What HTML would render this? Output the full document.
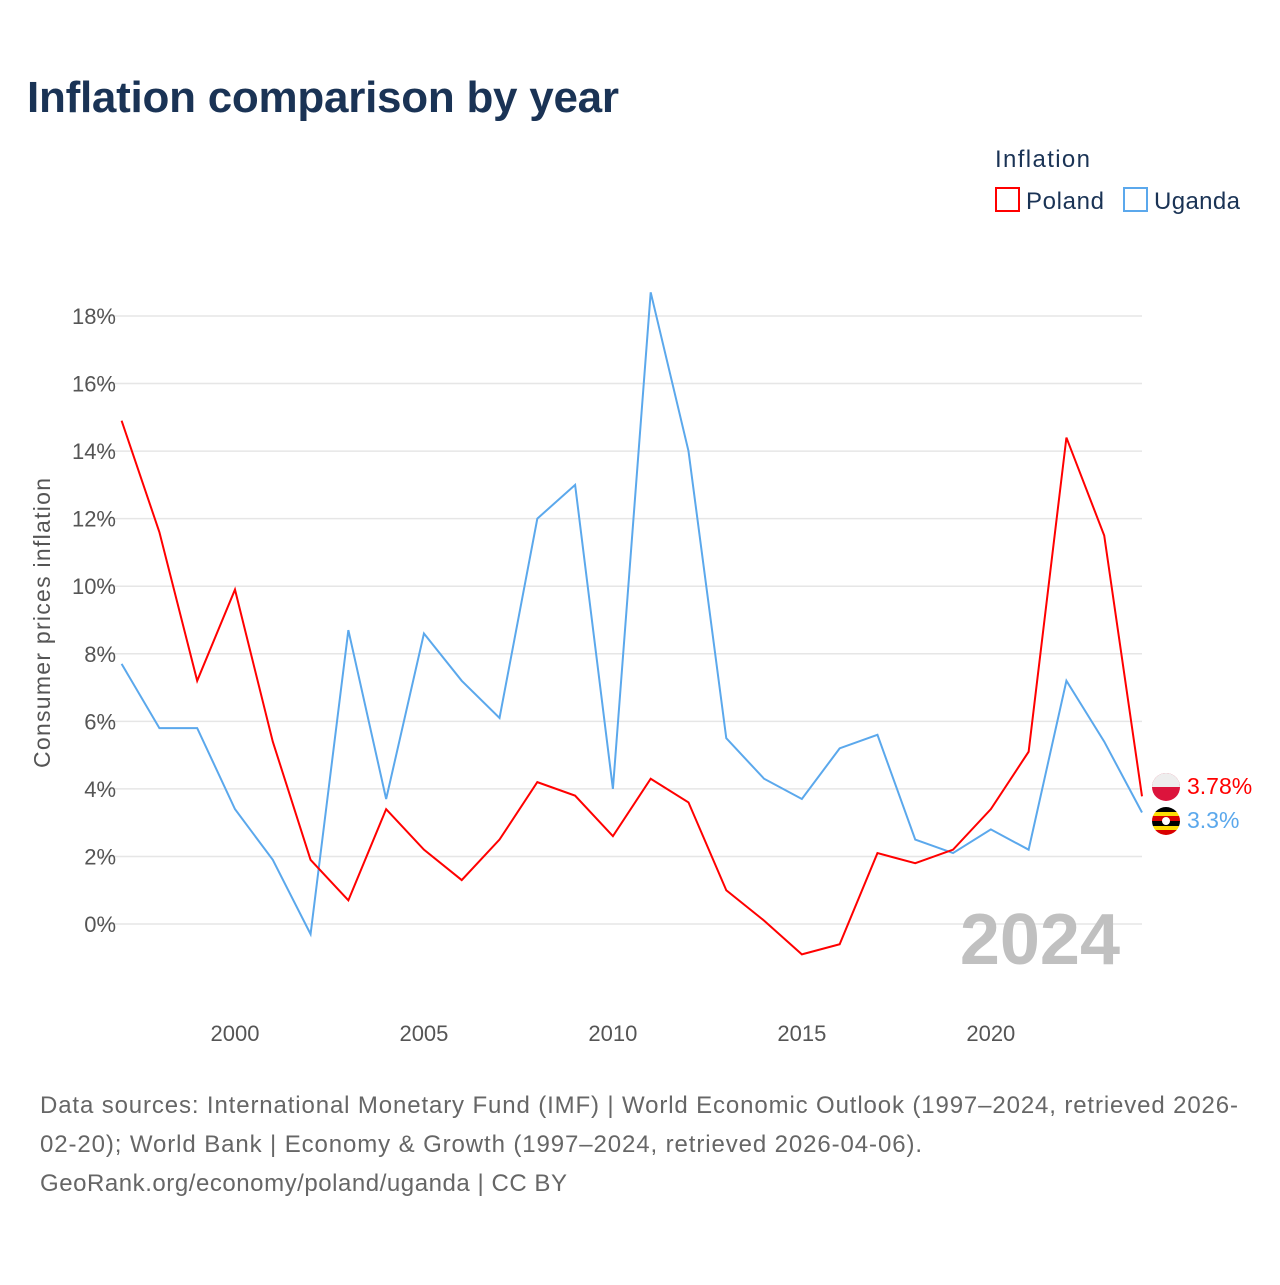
<!DOCTYPE html>
<html><head><meta charset="utf-8"><style>
body{margin:0;background:#fff;font-family:"Liberation Sans",sans-serif;}
svg text{font-family:"Liberation Sans",sans-serif;}
</style></head><body>
<svg width="1280" height="1280" viewBox="0 0 1280 1280" xmlns="http://www.w3.org/2000/svg">
<text x="27" y="112" font-size="44" font-weight="bold" fill="#1a3355" textLength="592">Inflation comparison by year</text>
<g>
<text x="995" y="167" font-size="24" fill="#1a3355" textLength="95">Inflation</text>
<g><rect x="996" y="188" width="23" height="23" fill="none" stroke="#ff0000" stroke-width="2"/><text x="1026" y="209" font-size="24" fill="#1a3355" textLength="78">Poland</text></g>
<g><rect x="1124" y="188" width="23" height="23" fill="none" stroke="#5ba8ec" stroke-width="2"/><text x="1154" y="209" font-size="24" fill="#1a3355" textLength="86">Uganda</text></g>
</g>
<g id="grid"></g>
<g id="yticks"></g>
<g id="xticks"></g>
<text transform="translate(50,623) rotate(-90)" text-anchor="middle" font-size="23" fill="#555" textLength="290">Consumer prices inflation</text>
<text x="1120" y="964" text-anchor="end" font-size="72" font-weight="bold" fill="#c0c0c0">2024</text>
<g id="series"></g>
<g><circle cx="1166" cy="787" r="14" fill="#dc143c"/><path d="M1152 787 a14 14 0 0 1 28 0 z" fill="#eee"/></g>
<g><clipPath id="uc"><circle cx="1166" cy="821" r="14"/></clipPath><g clip-path="url(#uc)"><rect x="1152" y="807" width="28" height="5" fill="#000"/><rect x="1152" y="812" width="28" height="4" fill="#fcdc04"/><rect x="1152" y="816" width="28" height="5" fill="#d90000"/><rect x="1152" y="821" width="28" height="5" fill="#000"/><rect x="1152" y="826" width="28" height="4" fill="#fcdc04"/><rect x="1152" y="830" width="28" height="5" fill="#d90000"/><circle cx="1166" cy="821" r="4" fill="#fff"/></g></g>
<text id="lblP" x="1187" y="794" font-size="23" fill="#ff0000">3.78%</text>
<text id="lblU" x="1187" y="828" font-size="23" fill="#5ba8ec">3.3%</text>
<g font-size="24" fill="#666">
<text x="40" y="1113" textLength="1198">Data sources: International Monetary Fund (IMF) | World Economic Outlook (1997–2024, retrieved 2026-</text>
<text x="40" y="1152" textLength="882">02-20); World Bank | Economy &amp; Growth (1997–2024, retrieved 2026-04-06).</text>
<text x="40" y="1191" textLength="527">GeoRank.org/economy/poland/uganda | CC BY</text>
</g>
</svg>
<script>
const years=[1997,1998,1999,2000,2001,2002,2003,2004,2005,2006,2007,2008,2009,2010,2011,2012,2013,2014,2015,2016,2017,2018,2019,2020,2021,2022,2023,2024];
const poland=[14.9,11.6,7.2,9.9,5.4,1.9,0.7,3.4,2.2,1.3,2.5,4.2,3.8,2.6,4.3,3.6,1.0,0.1,-0.9,-0.6,2.1,1.8,2.2,3.4,5.1,14.4,11.5,3.78];
const uganda=[7.7,5.8,5.8,3.4,1.9,-0.3,8.7,3.7,8.6,7.2,6.1,12.0,13.0,4.0,18.7,14.0,5.5,4.3,3.7,5.2,5.6,2.5,2.1,2.8,2.2,7.2,5.4,3.3];
const yTicks=[0,2,4,6,8,10,12,14,16,18];
const xTicks=[2000,2005,2010,2015,2020];
const NS="http://www.w3.org/2000/svg";
const xs=y=>121.6+(y-1997)*(1142-121.6)/27;
const ys=v=>924-v*33.78;
const grid=document.getElementById('grid'),yt=document.getElementById('yticks'),xt=document.getElementById('xticks'),se=document.getElementById('series');
yTicks.forEach(t=>{
const l=document.createElementNS(NS,'line');
l.setAttribute('x1',98);l.setAttribute('x2',1142);l.setAttribute('y1',ys(t));l.setAttribute('y2',ys(t));l.setAttribute('stroke','#e6e6e6');l.setAttribute('stroke-width','1.5');


grid.appendChild(l);
const tx=document.createElementNS(NS,'text');
tx.setAttribute('x',116);tx.setAttribute('y',ys(t)+8);tx.setAttribute('text-anchor','end');tx.setAttribute('font-size','22');tx.setAttribute('fill','#555');
tx.textContent=t+'%';


yt.appendChild(tx);
});
xTicks.forEach(t=>{
const tx=document.createElementNS(NS,'text');
tx.setAttribute('x',xs(t));tx.setAttribute('y',1041);tx.setAttribute('text-anchor','middle');tx.setAttribute('font-size','22');tx.setAttribute('fill','#555');
tx.textContent=t;


xt.appendChild(tx);
});
function line(vals,color,name){
const p=document.createElementNS(NS,'polyline');
p.setAttribute('points',vals.map((v,i)=>xs(years[i])+','+ys(v)).join(' '));
p.setAttribute('fill','none');p.setAttribute('stroke',color);p.setAttribute('stroke-width','2');


se.appendChild(p);
}
line(uganda,'#5ba8ec','uganda-line');
line(poland,'#ff0000','poland-line');
const pl=poland[poland.length-1],ul=uganda[uganda.length-1];
document.getElementById('lblP').textContent=pl+'%';
document.getElementById('lblU').textContent=ul+'%';
</script>
</body></html>
